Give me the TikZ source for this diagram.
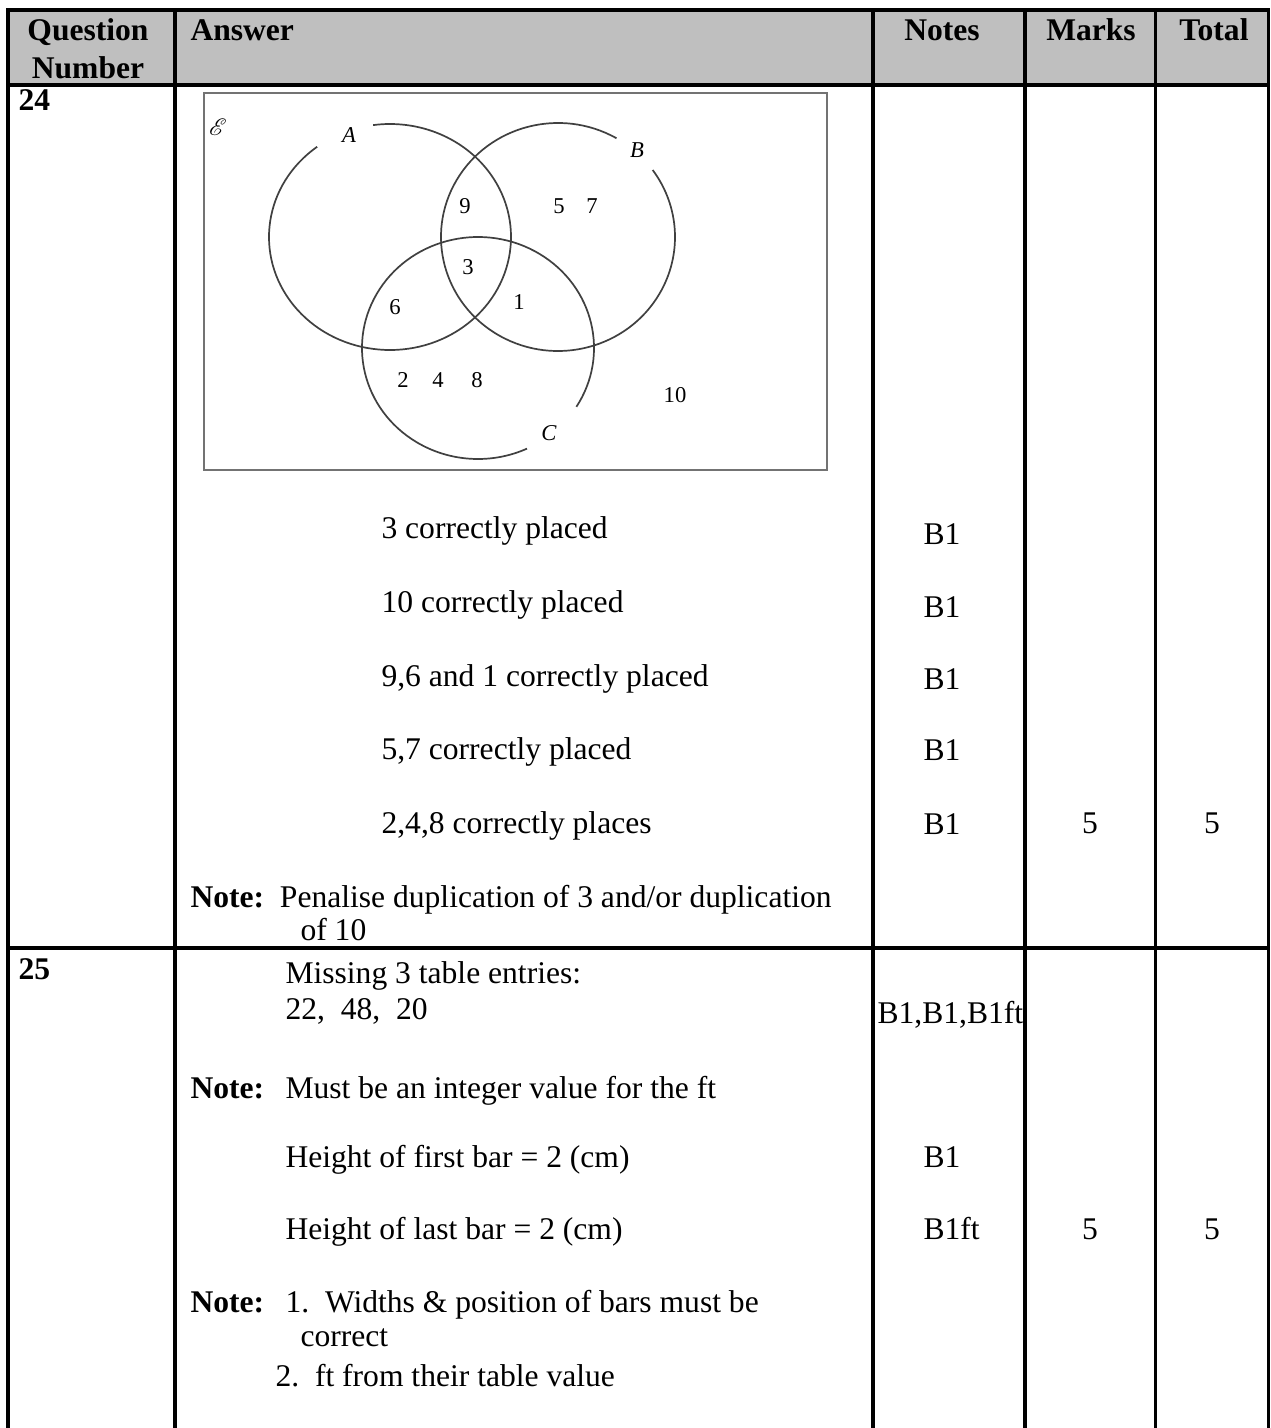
\documentclass[tikz,border=0pt]{standalone}
\usepackage{fontspec}
\setmainfont{Liberation Serif}
\usepackage{mathrsfs}

\begin{document}
\begin{tikzpicture}[x=0.38pt, y=-0.38pt,
    txt/.style={anchor=base west, inner sep=0pt, font=\fontsize{12}{14}\selectfont},
    ctr/.style={anchor=base, inner sep=0pt, font=\fontsize{12}{14}\selectfont},
    hdr/.style={anchor=base, inner sep=0pt, font=\fontsize{12}{14}\selectfont\bfseries},
    vnum/.style={inner sep=0pt, font=\fontsize{8.6}{10}\selectfont},
    vlbl/.style={inner sep=0pt, font=\fontsize{8.6}{10}\selectfont\itshape},
    tbl/.style={line width=1.15pt},
    ring/.style={line width=0.65pt, black!75}]
    \def\xl{8} % table left
    \def\xa{175} \def\xb{873} \def\xc{1025} \def\xd{1155}
    \def\xr{1268} % table right
    \def\yt{10} \def\yh{85} \def\yr{948} \def\yb{1428}

    \useasboundingbox (0,0) rectangle (1271,1428);

    % header band
    \fill[black!25] (\xl,\yt) rectangle (\xr,\yh);

    % table rules
    \draw[tbl] (\xl,\yb) -- (\xl,\yt) -- (\xr,\yt) -- (\xr,\yb);
    \draw[tbl] (\xl,\yh) -- (\xr,\yh);
    \draw[tbl] (\xl,\yr) -- (\xr,\yr);
    \foreach \x in {\xa,\xb,\xc,\xd}
        \draw[tbl] (\x,\yt) -- (\x,\yb);

    % header texts
    \node[hdr] (hq) at (88,40) {Question};
    \node[hdr] (hn) at (88,78) {Number};
    \node[hdr, anchor=base west] (hans) at (190,40) {Answer};
    \node[hdr] (hnotes) at (942,40) {Notes};
    \node[hdr] (hmarks) at (1091,40) {Marks};
    \node[hdr] (htotal) at (1214,40) {Total};

    % question numbers
    \node[hdr, anchor=base west] (q24) at (18,110) {24};
    \node[hdr, anchor=base west] (q25) at (18,979) {25};

    % Venn diagram frame
    \draw[black!55, line width=0.7pt] (204,93) rectangle (827,470);
    \coordinate (cA) at (390,237);
    \coordinate (cB) at (558,237);
    \coordinate (cC) at (478,348);

    % the three sets, each with a gap for its label
    \draw[ring] (cA) ++(-127:121 and 113) arc[start angle=-127, end angle=-458, x radius=121, y radius=113];
    \draw[ring] (cB) ++(-60:117 and 114) arc[start angle=-60, end angle=-396, x radius=117, y radius=114];
    \draw[ring] (cC) ++(32:116 and 111) arc[start angle=32, end angle=-295, x radius=116, y radius=111];

    \node[vnum] (uni) at (218,127) {$\mathscr{E}$};
    \node[vlbl] (lA) at (349,135) {A};
    \node[vlbl] (lB) at (637,150) {B};
    \node[vlbl] (lC) at (549,433) {C};

    % elements
    \node[vnum] (n9) at (465,206) {9};
    \node[vnum] (n5) at (559,206) {5};
    \node[vnum] (n7) at (592,206) {7};
    \node[vnum] (n3) at (468,267) {3};
    \node[vnum] (n6) at (395,307) {6};
    \node[vnum] (n1) at (519,302) {1};
    \node[vnum] (n2) at (403,380) {2};
    \node[vnum] (n4) at (438,380) {4};
    \node[vnum] (n8) at (477,380) {8};
    \node[vnum] (n10) at (675,395) {10};

    % question 24 marking points
    \node[txt] (a1) at (381,538) {3 correctly placed};
    \node[txt] (a2) at (381,612) {10 correctly placed};
    \node[txt] (a3) at (381,686) {9,6 and 1 correctly placed};
    \node[txt] (a4) at (381,759) {5,7 correctly placed};
    \node[txt] (a5) at (381,833) {2,4,8 correctly places};
    \node[txt] (b1) at (923,544) {B1};
    \node[txt] (b2) at (923,617) {B1};
    \node[txt] (b3) at (923,689) {B1};
    \node[txt] (b4) at (923,760) {B1};
    \node[txt] (b5) at (923,834) {B1};
    \node[ctr] (m24) at (1090,833) {5};
    \node[ctr] (t24) at (1212,833) {5};
    \node[txt] (note24) at (190,907) {\textbf{Note:}\ \ Penalise duplication of 3 and/or duplication};
    \node[txt] (note24b) at (300,940) {of 10};

    % question 25 marking points
    \node[txt] (c1) at (285,983) {Missing 3 table entries:};
    \node[txt] (c2) at (285,1019) {22,\ \ 48,\ \ 20};
    \node[txt] (d1) at (877,1023) {B1,B1,B1ft};
    \node[txt] (note25) at (190,1098) {\textbf{Note:}};
    \node[txt] (c3) at (285,1098) {Must be an integer value for the ft};
    \node[txt] (c4) at (285,1167) {Height of first bar = 2 (cm)};
    \node[txt] (d2) at (923,1167) {B1};
    \node[txt] (c5) at (285,1239) {Height of last bar = 2 (cm)};
    \node[txt] (d3) at (923,1239) {B1ft};
    \node[ctr] (m25) at (1090,1239) {5};
    \node[ctr] (t25) at (1212,1239) {5};
    \node[txt] (note25b) at (190,1312) {\textbf{Note:}};
    \node[txt] (c6) at (285,1312) {1.\ \ Widths \& position of bars must be};
    \node[txt] (c7) at (300,1346) {correct};
    \node[txt] (c8) at (275,1386) {2.\ \ ft from their table value};
\end{tikzpicture}
\end{document}
